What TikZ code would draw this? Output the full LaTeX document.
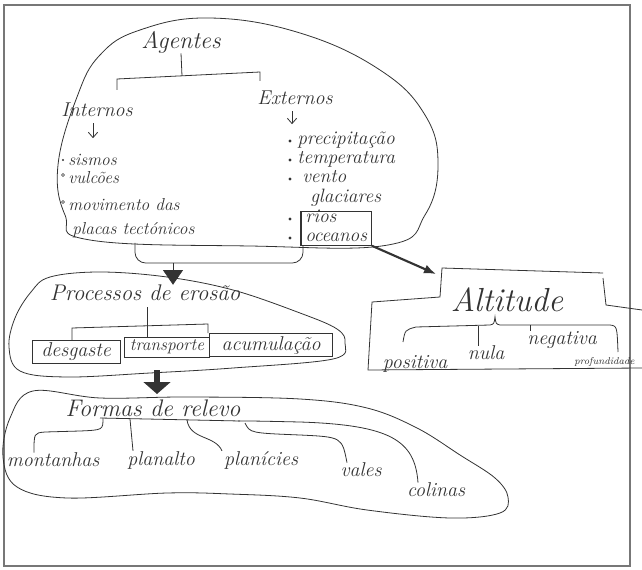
\documentclass[tikz,border=0pt]{standalone}
\usetikzlibrary{arrows.meta,positioning,fit}
\definecolor{Ink}{HTML}{333333}
\definecolor{Frame}{HTML}{777777}

\begin{document}
\begin{tikzpicture}[
    x=0.75pt, y=-0.75pt,
    pen/.style={draw=Ink, line width=0.6pt},
    hand/.style={font=\fontsize{15}{15}\selectfont\itshape, text=Ink, inner sep=0pt},
    small/.style={hand, font=\fontsize{13}{13}\selectfont\itshape},
    title/.style={hand, font=\fontsize{18}{18}\selectfont\itshape},
    item/.style={hand, anchor=west},
    listitem/.style={item, font=\fontsize{14.5}{14.5}\selectfont\itshape, text height=7pt, text depth=1.5pt},
    wordbox/.style={hand, draw=Ink, line width=0.6pt, inner sep=2pt, minimum height=15pt},
    down/.style={pen, -{Straight Barb[length=4pt,width=7pt]}},
    solid/.style={pen, -{Triangle[length=11pt,width=15pt]}},
    fat/.style={draw=Ink, line width=5pt, -{Triangle[length=9pt,width=20pt]}}
  ]
  \useasboundingbox (0,0) rectangle (642,570);
  \draw[Frame, line width=1.1pt] (4,5) rectangle (630,566);

  % agentes
  \draw[pen] plot[smooth cycle, tension=0.7] coordinates {(77,97) (100,55) (140,30) (210,18) (300,33)
    (380,70) (425,115) (438,165) (425,215) (388,245) (250,246) (90,240) (65,215) (58,165)};
  \node[title] (agentes) at (181,42) {Agentes};
  \node[hand] (internos) at (97,110) {Internos};
  \node[hand] (externos) at (295,98) {Externos};
  \coordinate (brL) at (117,79);
  \coordinate (brR) at (260,72);
  \draw[pen] (agentes.south) -- (182,76);
  \draw[pen] (117,90) -- (brL) -- (brR) -- (260,81);
  \draw[down] (internos.south -| 93,0) ++(0,6) -- ++(0,15);
  \draw[down] (externos.south -| 292,0) ++(0,6) -- ++(0,13);

  \node[item, small] (sismos) at (68,160) {sismos};
  \node[item, small] (vulcoes) at (68,178) {vulcões};
  \node[item, small] (movimento) at (68,205) {movimento das};
  \node[item, small] (placas) at (72,230) {placas tectónicos};
  \fill[Ink] (sismos.west -| 63,0) circle (0.8pt);
  \foreach \w in {vulcoes,movimento}
    \draw[Ink, line width=0.4pt] (\w.west -| 63,0) ++(0,-3) circle (1.2pt);

  \node[listitem] (precip) at (297,141) {precipitação};
  \node[listitem] (temp) at (297,160) {temperatura};
  \node[listitem] (vento) at (302,179) {vento};
  \node[listitem] (glaciares) at (310,199) {glaciares};
  \node[listitem] (rios) at (305,219) {rios};
  \node[listitem] (oceanos) at (305,238) {oceanos};
  \foreach \w in {precip,temp,vento,rios,oceanos}
    \fill[Ink] (\w.west -| 290,0) circle (1.3pt);
  \node[draw=Ink, line width=0.8pt, fit=(rios)(oceanos), inner xsep=3pt, inner ysep=1pt] (aguas) {};

  % para processos e altitude
  \coordinate (mrg) at (173,263);
  \draw[pen, rounded corners=8pt] (135,243) -- (135,263) -- (mrg);
  \draw[pen, rounded corners=8pt] (aguas.south -| 303,0) -- (303,263) -- (mrg);
  \coordinate (altTip) at (436,274);
  \draw[draw=Ink, line width=1.6pt, -{Latex[length=9pt,width=7pt]}] (aguas.south east) -- (altTip);

  % processos de erosao
  \draw[pen] plot[smooth cycle, tension=0.6] coordinates {(50,277) (100,272) (167,277) (233,290) (300,313)
    (337,329) (345,343) (333,359) (233,368) (150,373) (67,377) (20,371) (9,347) (15,318) (31,292)};
  \node[title, font=\fontsize{17}{17}\selectfont\itshape] (processos) at (145,293) {Processos de erosão};
  \draw[solid] (mrg) -- (mrg |- processos.north);
  \node[wordbox, minimum width=66pt, minimum height=17pt] (desgaste) at (76,352) {desgaste};
  \node[wordbox, small, inner sep=2pt, draw=Ink, minimum width=64pt, minimum height=15pt] (transporte) at (167,347) {transporte};
  \node[wordbox, minimum width=92pt] (acumulacao) at (271,345) {acumulação};
  \coordinate (pb1) at (72,328);
  \coordinate (pb2) at (208,324);
  \draw[pen] (desgaste.north -| pb1) -- (pb1) -- (pb2) -- (acumulacao.north -| pb2);
  \draw[pen] (147,307) -- (transporte.north -| 147,0);
  \coordinate (pBot) at (157,370);
  \coordinate (fTop) at (157,394);
  \draw[fat] (pBot) -- (fTop);

  % altitude
  \draw[pen] (642,368) -- (368,370) -- (372,302) -- (440,297) -- (442,268) -- (603,273);
  \draw[pen] (603,278) -- (606,305) -- (642,310);
  \node[title, font=\fontsize{25}{25}\selectfont\itshape] (altitude) at (507,300) {Altitude};
  \draw[pen] (403,342) .. controls (405,330) .. (416,327) -- (490,325) .. controls (494,324) .. (495,317)
    .. controls (496,324) .. (500,325) -- (610,325) .. controls (617,326) .. (618,352);
  \node[hand] (positiva) at (415,364) {positiva};
  \node[hand] (nula) at (486,353) {nula};
  \node[hand] (negativa) at (562,340) {negativa};
  \node[item, font=\fontsize{7.5}{7.5}\selectfont\itshape] (profundidade) at (574,362) {profundidade};
  \draw[pen] (478,326) -- (nula.north -| 478,0);
  \draw[pen] (530,325) -- (negativa.north -| 530,0);

  % formas de relevo
  \draw[pen] plot[smooth cycle, tension=0.6] coordinates {(33,391) (100,398) (187,397) (300,399) (367,408)
    (417,428) (460,455) (495,478) (508,497) (500,513) (450,518) (367,510) (300,498) (230,494)
    (167,493) (67,498) (17,487) (3,457) (10,418)};
  \node[title] (formas) at (153,408) {Formas de relevo};
  \node[hand] (montanhas) at (53,460) {montanhas};
  \node[hand] (planalto) at (161,460) {planalto};
  \node[hand] (planicies) at (261,460) {planícies};
  \node[hand] (vales) at (361,470) {vales};
  \node[hand] (colinas) at (436,490) {colinas};
  \draw[pen] (100,418) -- (240,421);
  \draw[pen] (103,418) .. controls (103,430) .. (80,431) -- (45,432) .. controls (34,433) .. (montanhas.north -| 34,0);
  \draw[pen] (130,419) -- (planalto.north -| 133,0);
  \draw[pen] (187,420) .. controls (190,440) and (215,435) .. (planicies.north -| 222,0);
  \draw[pen] (245,423) .. controls (250,433) .. (300,435) .. controls (342,437) .. (vales.north -| 347,0);
  \draw[pen] (238,421) .. controls (255,421) .. (300,422) .. controls (390,425) and (415,440) .. (colinas.north -| 418,0);
\end{tikzpicture}
\end{document}
